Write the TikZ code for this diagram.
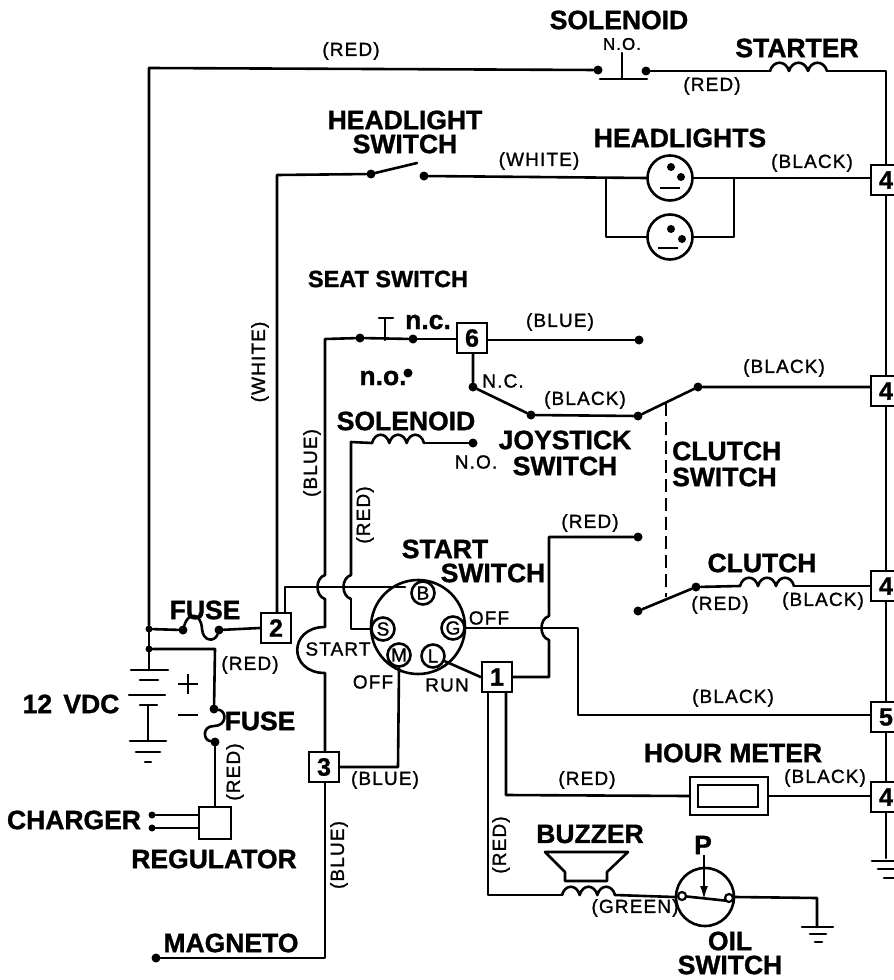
\documentclass[tikz,border=0pt]{standalone}
\usepackage{fontspec}
\setmainfont{Liberation Sans}
\newfontfamily\bigfam[FakeBold=1.2]{Liberation Sans Bold}
\newfontfamily\labfam[FakeBold=1.2,LetterSpace=6]{Liberation Sans}
\usetikzlibrary{arrows.meta}
\tikzset{
  wire/.style={line width=2.6pt,line join=round,line cap=round},
  thin wire/.style={line width=1.6pt},
  big/.style={font=\bigfam\fontsize{26.5}{26.5}\selectfont,inner sep=0pt,anchor=center},
  lab/.style={font=\labfam\fontsize{19}{19}\selectfont,inner sep=0pt,anchor=center},
  wdot/.style={circle,fill=black,inner sep=0pt,minimum size=9pt},
  jdot/.style={circle,fill=black,inner sep=0pt,minimum size=7pt},
  tbox/.style={draw,line width=2.6pt,fill=white,inner sep=0pt,minimum size=30pt,font=\bigfam\fontsize{25}{25}\selectfont},
  term/.style={circle,draw,line width=2.6pt,fill=white,inner sep=0pt,minimum size=23pt,font=\labfam\fontsize{19}{19}\selectfont},
  lamp/.style={circle,draw,line width=2.6pt,inner sep=0pt,minimum size=45pt},
}
% horizontal coil, three humps, from x=#1 at height #2, total width #3
\newcommand{\coilh}[3]{%
  \begin{scope}[shift={(#1,#2)},xscale=#3/54]
    \draw[wire] (0,0) .. controls (3,-11) and (15,-11) .. (18,0)
      .. controls (21,-11) and (33,-11) .. (36,0)
      .. controls (39,-11) and (51,-11) .. (54,0);
  \end{scope}}
\begin{document}
\begin{tikzpicture}[x=1pt,y=-1pt]
\useasboundingbox (0,0) rectangle (894,980);

% ---- terminal boxes
\node[tbox] (b4a) at (886,180) {4};
\node[tbox] (b4b) at (886,391) {4};
\node[tbox] (b4c) at (886,586) {4};
\node[tbox] (b5) at (886,717) {5};
\node[tbox] (b4d) at (886,797) {4};
\node[tbox] (b6) at (472,338) {6};
\node[tbox] (b2) at (276,628) {2};
\node[tbox] (b1) at (497,677) {1};
\node[tbox] (b3) at (324,767) {3};

% ---- dots and corners
\node[wdot] (solA) at (598,70) {};
\node[wdot] (solB) at (646,71) {};
\node[wdot] (hsA) at (371,174) {};
\node[wdot] (hsB) at (424,176) {};
\node[wdot] (seatA) at (360,338) {};
\node[wdot] (seatB) at (413,339) {};
\node[wdot] (seatNO) at (408,373) {};
\node[wdot] (joyBlue) at (639,340) {};
\node[wdot] (joyA) at (473,387) {};
\node[wdot] (joyB) at (531,415) {};
\node[wdot] (joyC) at (638,416) {};
\node[wdot] (joyD) at (698,387) {};
\node[wdot] (solNO) at (473,443) {};
\node[wdot] (redEnd) at (638,537) {};
\node[wdot] (cluA) at (638,611) {};
\node[wdot] (cluB) at (696,587) {};
\node[wdot] (fuA) at (183,630) {};
\node[wdot] (fuB) at (219,630) {};
\node[wdot] (fvA) at (214,709) {};
\node[wdot] (fvB) at (215,742) {};
\node[jdot] (j1) at (149,629) {};
\node[jdot] (j2) at (149,649) {};
\node[jdot] (chA) at (152,815) {};
\node[jdot] (chB) at (152,828) {};
\node[wdot] (mag) at (156,958) {};

% ---- coils
\coilh{770}{71}{57}
\coilh{372}{443}{52}
\coilh{740}{586}{54}
\coilh{562}{895}{53}
\coordinate (cStarterA) at (770,71);
\coordinate (cStarterB) at (827,71);
\coordinate (cSolA) at (372,443);
\coordinate (cSolB) at (424,443);
\coordinate (cCluA) at (740,586);
\coordinate (cCluB) at (794,586);
\coordinate (cBuzA) at (562,895);
\coordinate (cBuzB) at (615,895);

% ---- top: battery feed, solenoid, starter
\coordinate (tl) at (149,68);
\draw[wire] (j1) -- (tl) -- (solA);
\draw[wire] (solB) -- (cStarterA);
\draw[wire] (cStarterB) -- (886,71) -- (b4a.north);
\draw[wire] (b4a.south) -- (b4b.north);
\draw[wire] (b4b.south) -- (b4c.north);
\draw[wire] (b4c.south) -- (b5.north);
\draw[wire] (b5.south) -- (b4d.north);
\coordinate (gRight) at (886,858);
\draw[wire] (b4d.south) -- (gRight);
\draw[wire] (872,861) -- (894,861);
\draw[wire] (878,869) -- (894,869);
\draw[wire] (884,878) -- (894,878);
\draw[wire] (600,79) -- (647,79);
\draw[wire] (622,53) -- (622,79);

% ---- headlights
\node[lamp] (lampA) at (670,178) {};
\node[lamp] (lampB) at (670,237) {};
\draw[wire] (hsA) -- (417,163);
\draw[wire] (277,613) -- (277,175) -- (hsA);
\draw[wire] (hsB) -- (lampA.west);
\draw[wire] (lampA.east) -- (b4a.west |- lampA.east);
\draw[wire] (606,178) -- (606,237) -- (lampB.west);
\draw[wire] (734,178) -- (734,237) -- (lampB.east);
\fill (671,167) circle (4pt) (681,177) circle (4pt);
\draw[thin wire] (660,188) -- (680,188);
\fill (671,229) circle (4pt) (682,239) circle (4pt);
\draw[thin wire] (658,248) -- (678,248);

% ---- seat switch and joystick
\draw[wire] (325,575) -- (325,339) -- (seatA);
\draw[wire] (seatA) -- (seatB);
\draw[wire] (385,318) -- (385,340);
\draw[wire] (379,318) -- (393,318);
\draw[wire] (seatB) -- (b6.west |- seatB);
\draw[wire] (b6.east |- joyBlue) -- (joyBlue);
\draw[wire] (b6.south -| joyA) -- (joyA) -- (joyB) -- (joyC) -- (joyD) -- (b4b.west |- joyD);
\draw[dash pattern=on 13pt off 6pt,line width=1.8pt] (666,403) -- (666,597);

% ---- solenoid branch and clutch
\draw[wire] (351,575) -- (351,442) -- (cSolA);
\draw[wire] (cSolB) -- (solNO);
\draw[wire] (cluA) -- (cluB) -- (cCluA);
\draw[wire] (cCluB) -- (b4c.west |- cCluB);

% ---- start switch
\draw[wire] (418,627) circle (47pt);
\node[term] (tB) at (423,593) {B};
\node[term] (tS) at (383,629) {S};
\node[term] (tG) at (453,628) {G};
\node[term] (tM) at (399,655) {M};
\node[term] (tL) at (433,656) {L};

% B feed with hops over the blue and red wires
\coordinate (bfeed) at (285,587);
\draw[wire] (285,613) -- (bfeed) -- (405,587);
\draw[wire] (325,575) .. controls (315,578) and (315,596) .. (325,599);
\draw[wire] (351,575) .. controls (341,578) and (341,596) .. (351,599);
\draw[wire] (351,599) -- (351,629) -- (tS.west);
\draw[wire] (325,599) -- (325,627) .. controls (288,627) and (288,673) .. (325,673) -- (325,752);
\draw[wire] (325,783) -- (325,958) -- (mag);
\draw[wire] (tM.south) -- (398,767) -- (b3.east);
\draw[wire] (tL) -- (b1.west);
% G wire, and box 1 feed hopping over it
\draw[wire] (tG.east) -- (578,628) -- (578,715) -- (b5.west |- 578,715);
\draw[wire] (b1.east) -- (549,677) -- (549,640) .. controls (539,637) and (539,619) .. (549,616) -- (549,537) -- (redEnd);

% ---- hour meter
\node[draw,line width=2.6pt,minimum width=78pt,minimum height=38pt,inner sep=0pt] (meter) at (729,796) {};
\node[draw,line width=2.2pt,minimum width=60pt,minimum height=22pt,inner sep=0pt] (meterIn) at (728,796) {};
\draw[wire] (506,692) -- (506,795) -- (meter.west);
\draw[wire] (meter.east) -- (b4d.west |- meter.east);

% ---- buzzer and oil switch
\draw[wire] (488,692) -- (488,895) -- (cBuzA);
\draw[wire] (545,852) -- (628,852) -- (607,872) -- (607,881) -- (565,881) -- (565,872) -- cycle;
\node[circle,draw,line width=2.6pt,inner sep=0pt,minimum size=58pt] (oil) at (705,897) {};
\draw[wire] (cBuzB) -- (oil.west);
\draw[wire] (682,896) -- (729,901);
\node[circle,draw,line width=2.2pt,fill=white,inner sep=0pt,minimum size=8pt] (oilA) at (682,896) {};
\node[circle,draw,line width=2.2pt,fill=white,inner sep=0pt,minimum size=8pt] (oilB) at (729,898) {};
\draw[line width=1.6pt,-{Latex[length=13pt,width=8pt]}] (704,855) -- (704,899);
\coordinate (oilG) at (817,898);
\draw[wire] (oil.east) -- (oilG) -- (817,927);
\draw[wire] (802,927) -- (833,927);
\draw[wire] (810,934) -- (826,934);
\draw[wire] (815,942) -- (822,942);

% ---- battery, fuses, regulator
\draw[wire] (j1) -- (fuA);
\draw[wire] (fuA) .. controls (188,612) and (201,612) .. (202,629) .. controls (203,642) and (215,642) .. (fuB);
\draw[wire] (fuB) -- (b2.west);
\draw[wire] (j1) -- (149,670);
\draw[wire] (j2) -- (215,649) -- (fvA);
\draw[wire] (fvA) .. controls (227,711) and (227,726) .. (214,726) .. controls (202,726) and (203,740) .. (fvB);
\node[draw,line width=2.6pt,minimum size=32pt,inner sep=0pt] (reg) at (215,823) {};
\draw[wire] (fvB) -- (reg.north);
\draw[wire] (chA) -- (reg.west |- chA);
\draw[wire] (chB) -- (reg.west |- chB);
\draw[wire] (131,670) -- (168,670);
\draw[wire] (140,680) -- (158,680);
\draw[wire] (129,695) -- (165,695);
\draw[wire] (140,705) -- (157,705);
\draw[wire] (148,705) -- (148,741);
\draw[wire] (130,741) -- (166,741);
\draw[wire] (136,752) -- (160,752);
\draw[wire] (145,762) -- (151,762);
\draw[line width=1.6pt] (178,684) -- (198,684) (188,674) -- (188,694);
\draw[line width=1.6pt] (178,715) -- (198,715);

% ---- captions
\node[big] (tSol) at (619,20) {SOLENOID};
\node[lab,font=\labfam\fontsize{17}{17}\selectfont] (tSolNO) at (622,44) {N.O.};
\node[big] (tStarter) at (797,48) {STARTER};
\node[lab] (tRed1) at (351,51) {(RED)};
\node[lab] (tRed2) at (712,86) {(RED)};
\node[big] (tHL) at (405,120) {HEADLIGHT};
\node[big] (tHS) at (405,144) {SWITCH};
\node[big] (tHLs) at (680,138) {HEADLIGHTS};
\node[lab] (tWhite) at (539,161) {(WHITE)};
\node[lab] (tBlack1) at (812,163) {(BLACK)};
\node[big,font=\bigfam\fontsize{23.5}{24}\selectfont] (tSeat) at (388,279) {SEAT SWITCH};
\node[big] (tNC) at (428,322) {n.c.};
\node[lab] (tBlue1) at (560,322) {(BLUE)};
\node[lab] (tNC2) at (503,381) {N.C.};
\node[lab] (tBlack2) at (585,400) {(BLACK)};
\node[lab] (tBlack3) at (784,368) {(BLACK)};
\node[big] (tNO) at (383,378) {n.o.};
\node[big] (tSol2) at (406,421) {SOLENOID};
\node[big] (tJoy) at (565,440) {JOYSTICK};
\node[big] (tJoyS) at (565,466) {SWITCH};
\node[lab] (tNO2) at (476,462) {N.O.};
\node[big,anchor=west] (tClu) at (672,451) {CLUTCH};
\node[big,anchor=west] (tCluS) at (672,477) {SWITCH};
\node[lab,rotate=90] (tWhite2) at (260,362) {(WHITE)};
\node[lab,rotate=90] (tBlue2) at (312,463) {(BLUE)};
\node[lab,rotate=90] (tRed3) at (365,515) {(RED)};
\node[lab] (tRed4) at (590,523) {(RED)};
\node[big] (tStart) at (445,549) {START};
\node[big] (tStartS) at (493,573) {SWITCH};
\node[big] (tClutch) at (762,563) {CLUTCH};
\node[lab] (tRed5) at (720,605) {(RED)};
\node[lab] (tBlack4) at (823,601) {(BLACK)};
\node[lab] (tOff) at (489,618) {OFF};
\node[big] (tFuse) at (205,610) {FUSE};
\node[lab] (tRed6) at (250,665) {(RED)};
\node[lab] (tStart2) at (338,649) {START};
\node[lab] (tOff2) at (373,682) {OFF};
\node[lab] (tRun) at (447,685) {RUN};
\node[big] (tV) at (71,704) {12\hspace{4pt} VDC};
\node[big] (tFuse2) at (260,721) {FUSE};
\node[lab,rotate=90] (tRed7) at (235,772) {(RED)};
\node[big] (tCharger) at (74,820) {CHARGER};
\node[big] (tReg) at (214,859) {REGULATOR};
\node[lab] (tBlue3) at (385,780) {(BLUE)};
\node[lab,rotate=90] (tBlue4) at (339,855) {(BLUE)};
\node[big] (tMag) at (231,943) {MAGNETO};
\node[lab] (tBlack5) at (733,698) {(BLACK)};
\node[big] (tHour) at (733,753) {HOUR METER};
\node[lab] (tRed8) at (587,780) {(RED)};
\node[lab] (tBlack6) at (825,778) {(BLACK)};
\node[lab,rotate=90] (tRed9) at (501,845) {(RED)};
\node[big] (tBuzzer) at (590,834) {BUZZER};
\node[big] (tP) at (703,845) {P};
\node[lab] (tGreen) at (635,908) {(GREEN)};
\node[big] (tOil) at (730,941) {OIL};
\node[big] (tOilS) at (730,965) {SWITCH};
\end{tikzpicture}
\end{document}
